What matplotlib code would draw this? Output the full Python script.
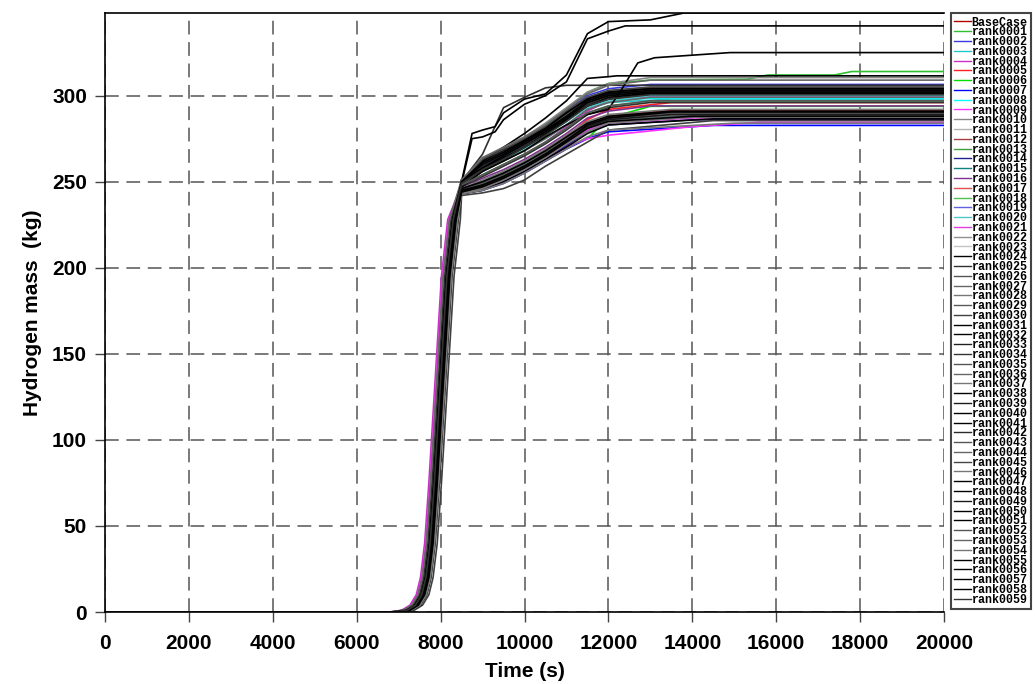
import matplotlib
matplotlib.use("Agg")
import matplotlib.pyplot as plt

# Shared shape of the fast rise (time s, mass kg); each run is shifted in time
RISE_T = [6900, 7200, 7400, 7550, 7650, 7750, 7850, 7950, 8050, 8150, 8300]
RISE_M = [0, 1, 4, 10, 20, 40, 75, 115, 155, 195, 228]

PLATEAU_T = [8500, 9000, 9500, 10000, 10500, 11000, 11500, 12000]

NAMES = ['BaseCase'] + ['rank%04d' % i for i in range(1, 60)]

COLORS = ['#b00000', '#30c030', '#3838e0', '#20c8c8', '#c830c8', '#ff2020',
          '#00e000', '#0000ff', '#00ffff', '#ff30ff', '#888888', '#b4b4b4',
          '#a04040', '#40a040', '#202090', '#108080', '#803090', '#e05050',
          '#50c050', '#6060e0', '#50c8c8', '#e040e0', '#909090', '#c4c4c4',
          '#000000', '#303030', '#555555', '#666666', '#777777', '#5a5a5a',
          '#404040', '#000000', '#000000', '#202020', '#333333', '#555555',
          '#666666', '#777777', '#000000', '#1a1a1a', '#000000', '#000000',
          '#2a2a2a', '#555555', '#666666', '#444444', '#777777', '#000000',
          '#000000', '#1a1a1a', '#000000', '#000000', '#555555', '#666666',
          '#777777', '#000000', '#000000', '#000000', '#000000', '#333333']

RISE_SHIFT = [0, -20, 30, -40, -130, 10, 50, 60, -30, -100,
              0, 20, 40, -10, 70, -60, 20, 90, -50, 10,
              -20, 80, 30, -40, 0, -70, 50, -80, 100, 20,
              170, -60, -30, 40, -10, 60, 80, -50, -40, 10,
              -20, 120, -20, 30, -60, 0, 90, 20, -40, 60,
              -10, 20, -30, -90, 110, 40, 70, -20, 50, 0]

PLATEAU_M = [
    [245, 248, 252, 258, 265, 273, 281, 287],   # BaseCase
    [250, 262, 268, 275, 283, 292, 302, 307],   # 0001
    [251, 258, 266, 274, 282, 291, 300, 304],
    [249, 256, 263, 269, 275, 283, 292, 296],
    [248, 254, 260, 266, 273, 282, 291, 297],
    [244, 247, 251, 258, 266, 276, 286, 292],   # 0005
    [245, 249, 254, 259, 264, 270, 275, 287],
    [243, 245, 249, 255, 262, 269, 275, 279],
    [250, 259, 266, 272, 279, 287, 294, 297],
    [244, 246, 250, 256, 263, 270, 275, 277],
    [251, 263, 270, 276, 284, 293, 302, 307],   # 0010
    [249, 257, 264, 271, 279, 288, 296, 301],
    [244, 247, 252, 258, 265, 273, 281, 286],
    [249, 256, 262, 269, 277, 286, 295, 299],
    [243, 246, 250, 256, 263, 271, 279, 283],
    [246, 250, 255, 261, 267, 274, 282, 286],   # 0015
    [247, 252, 257, 263, 270, 278, 287, 291],
    [245, 248, 253, 259, 266, 274, 283, 288],
    [248, 254, 260, 266, 273, 281, 290, 294],
    [250, 259, 266, 272, 280, 289, 297, 301],
    [249, 257, 263, 269, 277, 285, 293, 297],   # 0020
    [244, 246, 251, 257, 264, 272, 280, 284],
    [250, 258, 264, 271, 279, 287, 295, 299],
    [250, 260, 267, 274, 281, 290, 299, 303],
    [251, 262, 267, 273, 280, 288, 297, 301],
    [250, 266, 293, 299, 304.5, 306, 306, 306],  # 0025
    [245, 249, 253, 259, 266, 274, 282, 287],
    [250, 264, 268, 274, 281, 289, 296, 300],
    [244, 246, 251, 257, 265, 273, 281, 286],
    [251, 261, 268, 275, 282, 291, 299, 302],
    [242, 243.5, 246, 251, 259, 266, 273, 280],  # 0030
    [250, 280, 290, 298, 301, 312, 336, 343],
    [249, 258, 264, 270, 278, 286, 294, 299],
    [245, 249, 254, 260, 267, 275, 283, 287],
    [247, 253, 259, 265, 272, 280, 289, 293],
    [250, 261, 267, 273, 280, 289, 297, 301],   # 0035
    [244, 247, 252, 258, 265, 273, 281, 285],
    [246, 251, 256, 262, 269, 277, 285, 289],
    [249, 276, 286, 295, 300, 308, 333, 337.5],
    [250, 262, 268, 274, 281, 290, 298, 302],
    [251, 262, 270, 278, 287, 297, 310, 311],   # 0040
    [243, 245, 250, 256, 263, 270, 278, 283],
    [250, 259, 265, 271, 279, 287, 295, 300],
    [245, 249, 254, 260, 267, 275, 283, 287],
    [248, 256, 262, 268, 275, 283, 292, 296],
    [251, 263, 269, 275, 282, 291, 299, 303],   # 0045
    [243, 245, 249, 255, 262, 269, 276, 280],
    [247, 256, 262, 268, 276, 283, 289, 292],
    [249, 257, 263, 270, 277, 286, 294, 298],
    [244, 248, 253, 259, 266, 274, 282, 286],
    [250, 260, 266, 273, 280, 288, 297, 301],   # 0050
    [246, 250, 255, 261, 268, 276, 284, 288],
    [248, 254, 260, 266, 273, 281, 290, 294],
    [251, 264, 270, 276, 283, 292, 301, 306],
    [243, 246, 251, 257, 264, 272, 279, 284],
    [250, 258, 265, 272, 279, 287, 296, 300],   # 0055
    [245, 248, 253, 259, 266, 274, 283, 287],
    [250, 261, 267, 274, 281, 290, 298, 302],
    [244, 247, 252, 258, 265, 273, 281, 285],
    [249, 257, 263, 270, 277, 285, 294, 298],
]

FINAL_T = [13500, 17800, 13000, 13500, 13000, 13500, 13000, 14500, 13000, 15600,
           13000, 13000, 13500, 13000, 14000, 13500, 13000, 13500, 13000, 13000,
           13000, 14000, 13000, 13000, 13000, 13000, 13500, 13000, 14000, 13000,
           14500, 13800, 13000, 13500, 13000, 13000, 14000, 13500, 12400, 13000,
           12200, 14500, 13000, 13500, 13000, 13000, 15000, 14900, 13000, 13500,
           13000, 13500, 13000, 13000, 14000, 13000, 13500, 13000, 14000, 13000]

FINAL_M = [291, 314, 306.5, 298, 299.5, 296, 293.8, 282.7, 298.5, 284.5,
           310.5, 303, 289, 301, 286, 288, 294, 291.5, 296.5, 304,
           300, 287, 302, 305, 303, 306, 290, 302, 289.5, 304.5,
           285.5, 348, 301.5, 290.5, 296, 303.5, 288.5, 292, 340.5, 304,
           311.5, 286.5, 302.5, 290, 299, 305, 284, 325, 301, 289,
           303, 291, 297, 309, 287.5, 302, 290.5, 304, 288, 300.5]

# extra knots for runs with a distinct shape
EXTRA_T = {'rank0001': [13000, 15300, 15800, 17400],
           'rank0009': [14000],
           'rank0031': [8750, 9300, 13000],
           'rank0038': [8750, 9300],
           'rank0047': [12300, 12700, 13100]}
EXTRA_M = {'rank0001': [309, 309.5, 312, 312],
           'rank0009': [282],
           'rank0031': [278, 282, 344],
           'rank0038': [275, 279],
           'rank0047': [303, 319, 322]}

plt.rcParams['font.family'] = ['Liberation Sans', 'DejaVu Sans']
plt.rcParams['font.weight'] = 'bold'

fig = plt.figure(figsize=(10.35, 6.84), dpi=100)
ax = fig.add_axes([105 / 1035, 72 / 684, 839 / 1035, 599 / 684])

for i, name in enumerate(NAMES):
    pts = [(0, 0)]
    pts += [(t + RISE_SHIFT[i], m) for t, m in zip(RISE_T, RISE_M)]
    pts += list(zip(PLATEAU_T, PLATEAU_M[i]))
    if name in EXTRA_T:
        pts += list(zip(EXTRA_T[name], EXTRA_M[name]))
    pts += [(FINAL_T[i], FINAL_M[i]), (20000, FINAL_M[i])]
    pts.sort()
    ax.plot([p[0] for p in pts], [p[1] for p in pts], color=COLORS[i], lw=1.2, label=name)

ax.set_xlim(0, 20000)
ax.set_ylim(0, 348)
ax.set_xticks(range(0, 20001, 2000))
ax.set_yticks(range(0, 301, 50))
ax.grid(True, color='#555555', linestyle=(0, (9, 5)), linewidth=1.1)
ax.tick_params(direction='out', length=7, width=1, colors='#444444', labelcolor='black',
               labelsize=15)
ax.tick_params(axis='x', pad=9)
ax.tick_params(axis='y', pad=6)
ax.spines['right'].set_visible(False)
for s in ['left', 'bottom', 'top']:
    ax.spines[s].set_linewidth(1.2)

ax.set_xlabel('Time (s)', fontsize=15, fontweight='bold', labelpad=6)
ax.set_ylabel('Hydrogen mass  (kg)', fontsize=15, fontweight='bold', labelpad=7)

leg = ax.legend(loc='upper left', bbox_to_anchor=(1.008, 1.0), borderaxespad=0,
                prop={'family': 'Liberation Mono', 'weight': 'bold', 'size': 8.4},
                labelspacing=-0.19, handlelength=1.4, handletextpad=0.1,
                borderpad=0.3, fancybox=False, framealpha=1)
leg.get_frame().set_edgecolor('#444444')
leg.get_frame().set_linewidth(1.5)
for ln in leg.get_lines():
    ln.set_linewidth(1.0)

fig.savefig('out.png', dpi=100)
